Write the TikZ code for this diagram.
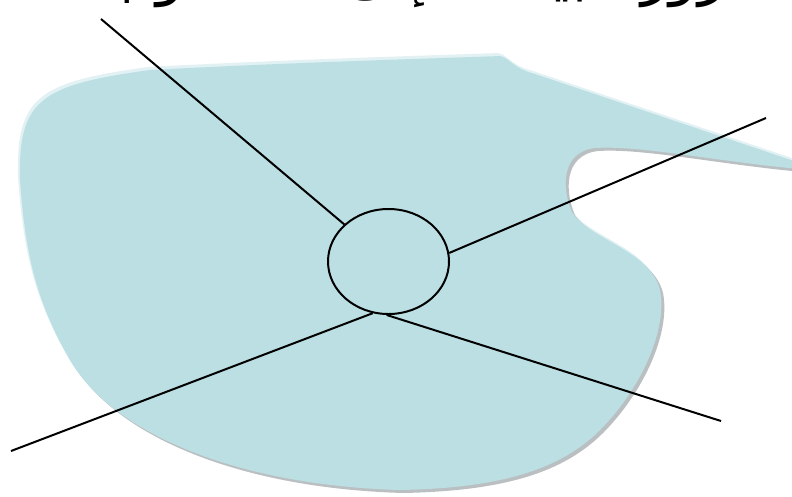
\documentclass[tikz,border=0pt]{standalone}
\usepackage{fontspec}
\usepackage{xcolor}
\usetikzlibrary{shapes.geometric}
\TeXXeTstate=1
\newfontfamily\arabicfont[Script=Arabic]{DejaVu Sans}
\definecolor{blobfill}{RGB}{187,223,227}
\definecolor{blobshade}{RGB}{186,192,194}
\definecolor{blobglow}{RGB}{226,241,243}

\begin{document}
\begin{tikzpicture}[
  x=0.03cm, y=-0.03cm,
  link/.style={line width=1.7pt},
  hubnode/.style={ellipse, draw, line width=1.7pt, minimum width=3.63cm, minimum height=3.15cm, inner sep=0pt},
  ttl/.style={font=\arabicfont\fontsize{50}{56}\selectfont, inner sep=0pt, anchor=base east}
]
\useasboundingbox (0,0) rectangle (792,496);

% region
\foreach \dx/\dy/\col in {-2/-3/blobglow, 3/3/blobshade, 0/0/blobfill}
  \fill[\col, shift={(\dx,\dy)}] (20,180) .. controls (18,100) and (40,85) .. (150,70)
    .. controls (300,62) and (450,58) .. (500,56)
    .. controls (510,58) and (512,68) .. (535,74) -- (800,163) -- (800,169)
    .. controls (720,162) and (640,145) .. (595,148)
    .. controls (560,152) and (562,190) .. (572,212)
    .. controls (590,240) and (650,250) .. (660,290)
    .. controls (668,330) and (640,390) .. (600,430)
    .. controls (560,470) and (500,488) .. (400,490)
    .. controls (230,485) and (110,430) .. (70,360)
    .. controls (35,300) and (25,250) .. (20,180) -- cycle;

% title, cut at the top
\node[ttl] (ttl) at (762,-7) {\beginR مرور البيانات إلى الحاسوب\endR};

\node[hubnode] (hub) at (388.5,261.5) {};

\coordinate (tl) at (101,19);
\coordinate (tr) at (766,118);
\coordinate (bl) at (11,451);
\coordinate (br) at (721,421);

\draw[link] (tl) -- (hub.140);
\draw[link] (tr) -- (hub.8);
\draw[link] (bl) -- (hub.253);
\draw[link] (br) -- (hub.268);

\end{tikzpicture}
\end{document}
